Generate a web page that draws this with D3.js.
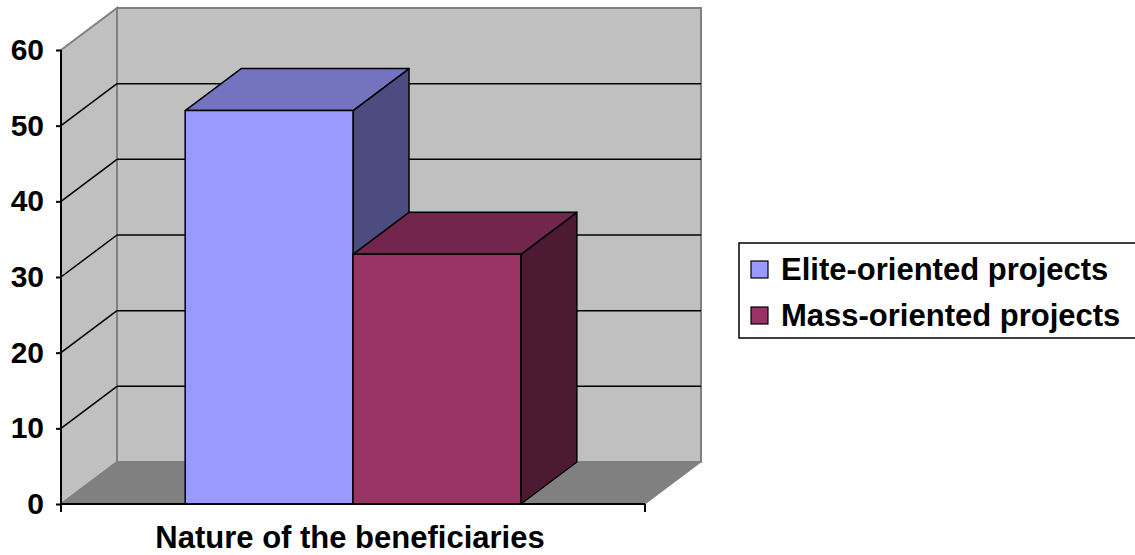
<!DOCTYPE html>
<html>
<head>
<meta charset="utf-8">
<script src="https://cdn.jsdelivr.net/npm/d3@7"></script>
<style>
  html, body { margin: 0; padding: 0; background: #ffffff; }
  svg { display: block; }
  text { font-family: "Liberation Sans", Arial, sans-serif; font-weight: bold; fill: #000; }
</style>
</head>
<body>
<svg id="chart" width="1135" height="555"></svg>
<script>
// Chart data
const categories = ["Nature of the beneficiaries"];
const seriesNames = ["Elite-oriented projects", "Mass-oriented projects"];
const seriesValues = [52, 33];
const yTicks = [0, 10, 20, 30, 40, 50, 60];

// Face colours per series: front, top, side
const palette = [
  { front: "#9999FF", top: "#7373BF", side: "#4C4C80" },
  { front: "#993366", top: "#73264D", side: "#4D1A33" }
];

const svg = d3.select("#chart");

// Front plane of the plot box and the depth offset of the back wall
const plotLeft = 61, plotRight = 645, plotTop = 50, plotBottom = 504;
const depthX = 56, depthY = -42;

const y = d3.scaleLinear().domain([0, 60]).range([plotBottom, plotTop]);
const x0 = d3.scaleBand().domain(categories).range([plotLeft, plotRight])
  .paddingInner(0.27).paddingOuter(0.27);
const x1 = d3.scaleBand().domain(seriesNames).range([0, x0.bandwidth()]).padding(0);

const pts = arr => arr.map(p => p.join(",")).join(" ");
const yMin = y(0), yMax = y(60);

// Walls and floor
const walls = svg.append("g");
walls.append("polygon") // back wall
  .attr("points", pts([[plotLeft + depthX, yMax + depthY], [plotRight + depthX, yMax + depthY],
                       [plotRight + depthX, yMin + depthY], [plotLeft + depthX, yMin + depthY]]))
  .attr("fill", "#C0C0C0").attr("stroke", "#808080").attr("stroke-width", 2);
walls.append("polygon") // side wall
  .attr("points", pts([[plotLeft, yMax], [plotLeft + depthX, yMax + depthY],
                       [plotLeft + depthX, yMin + depthY], [plotLeft, yMin]]))
  .attr("fill", "#C0C0C0").attr("stroke", "#808080").attr("stroke-width", 2);
walls.append("polygon") // floor
  .attr("points", pts([[plotLeft, yMin], [plotLeft + depthX, yMin + depthY],
                       [plotRight + depthX, yMin + depthY], [plotRight, yMin]]))
  .attr("fill", "#808080").attr("stroke", "#808080").attr("stroke-width", 1);

// Gridlines on the back and side walls
const grid = svg.append("g");
yTicks.filter(v => v > 0 && v < 60).forEach(v => {
  grid.append("line")
    .attr("x1", plotLeft + depthX).attr("x2", plotRight + depthX)
    .attr("y1", y(v) + depthY).attr("y2", y(v) + depthY)
    .attr("stroke", "#000").attr("stroke-width", 1.5);
  grid.append("line")
    .attr("x1", plotLeft).attr("x2", plotLeft + depthX)
    .attr("y1", y(v)).attr("y2", y(v) + depthY)
    .attr("stroke", "#000").attr("stroke-width", 1.5);
});

// 3D columns, drawn left to right
const bars = svg.append("g");
categories.forEach(cat => {
  seriesNames.forEach((s, i) => {
    const xl = x0(cat) + x1(s), xr = xl + x1.bandwidth();
    const yt = y(seriesValues[i]), yb = y(0);
    const c = palette[i];
    const g = bars.append("g").attr("stroke", "#000").attr("stroke-width", 1.5)
      .attr("stroke-linejoin", "round");
    g.append("polygon") // right side
      .attr("points", pts([[xr, yt], [xr + depthX, yt + depthY], [xr + depthX, yb + depthY], [xr, yb]]))
      .attr("fill", c.side);
    g.append("polygon") // top
      .attr("points", pts([[xl, yt], [xl + depthX, yt + depthY], [xr + depthX, yt + depthY], [xr, yt]]))
      .attr("fill", c.top);
    g.append("rect") // front
      .attr("x", xl).attr("y", yt).attr("width", xr - xl).attr("height", yb - yt)
      .attr("fill", c.front);
  });
});

// Y axis
const yAxis = svg.append("g").attr("transform", `translate(${plotLeft},0)`)
  .call(d3.axisLeft(y).tickValues(yTicks).tickSize(5).tickPadding(12).tickFormat(d3.format("d")));
yAxis.select(".domain").attr("stroke", "#000").attr("stroke-width", 2).attr("d", `M0,${yMax}V${yMin}`);
yAxis.selectAll(".tick line").attr("stroke", "#000").attr("stroke-width", 2);
yAxis.selectAll(".tick text").attr("font-size", 30).attr("font-family", "Liberation Sans, Arial, sans-serif")
  .attr("font-weight", "bold").attr("fill", "#000");

// X axis
const xAxisG = svg.append("g");
xAxisG.append("line").attr("x1", plotLeft).attr("x2", plotRight)
  .attr("y1", yMin).attr("y2", yMin).attr("stroke", "#000").attr("stroke-width", 2);
[plotLeft, plotRight].forEach(xx => {
  xAxisG.append("line").attr("x1", xx).attr("x2", xx).attr("y1", yMin).attr("y2", yMin + 8)
    .attr("stroke", "#000").attr("stroke-width", 2);
});

// Axis title
svg.append("text")
  .attr("x", x0(categories[0]) + x0.bandwidth() / 2 - 3)
  .attr("y", 548)
  .attr("text-anchor", "middle")
  .attr("font-size", 31)
  .text(categories[0]);

// Legend
const legend = svg.append("g");
legend.append("rect").attr("x", 739).attr("y", 243).attr("width", 420).attr("height", 95)
  .attr("fill", "#fff").attr("stroke", "#000").attr("stroke-width", 1.5);
seriesNames.forEach((s, i) => {
  const ly = 261 + i * 46;
  legend.append("rect").attr("x", 751).attr("y", ly).attr("width", 17).attr("height", 17)
    .attr("fill", palette[i].front).attr("stroke", "#000").attr("stroke-width", 1.2);
  legend.append("text").attr("x", 781).attr("y", ly + 19).attr("font-size", 31).text(s);
});
</script>
</body>
</html>
